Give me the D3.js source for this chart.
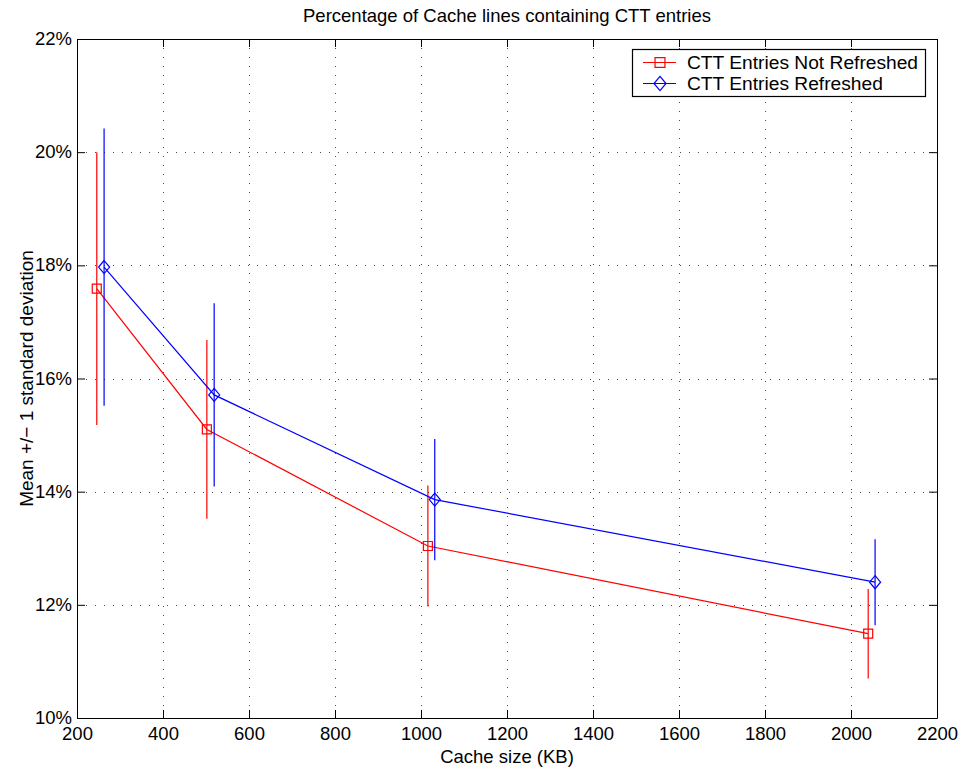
<!DOCTYPE html>
<html>
<head>
<meta charset="utf-8">
<script src="https://cdn.jsdelivr.net/npm/d3@7"></script>
<style>
  body { margin: 0; background: #fff; }
  text { font-family: "Liberation Sans", Arial, Helvetica, sans-serif; fill: #000; }
</style>
</head>
<body>
<svg></svg>
<script>
const size = {w: 961, h: 769};
const margin = {t: 39, r: 24, b: 51, l: 77};
const plot = {w: size.w - margin.l - margin.r, h: size.h - margin.t - margin.b};

// data
const xTicks = [200, 400, 600, 800, 1000, 1200, 1400, 1600, 1800, 2000, 2200];
const yTicks = [10, 12, 14, 16, 18, 20, 22];

const notRefreshedX = [246, 502, 1016, 2040];
const notRefreshedMean = [17.59, 15.10, 13.04, 11.49];
const notRefreshedSd = [2.41, 1.58, 1.07, 0.79];

const refreshedX = [263, 519, 1032, 2056];
const refreshedMean = [17.97, 15.71, 13.86, 12.40];
const refreshedSd = [2.45, 1.62, 1.07, 0.76];

const seriesNames = ['CTT Entries Not Refreshed', 'CTT Entries Refreshed'];
const seriesColors = ['#ff0000', '#0000ff'];
const seriesMarkers = ['square', 'diamond'];

const series = [
  {name: seriesNames[0], color: seriesColors[0], marker: seriesMarkers[0],
   pts: notRefreshedX.map((x, i) => ({x, m: notRefreshedMean[i], s: notRefreshedSd[i]}))},
  {name: seriesNames[1], color: seriesColors[1], marker: seriesMarkers[1],
   pts: refreshedX.map((x, i) => ({x, m: refreshedMean[i], s: refreshedSd[i]}))}
];

const fontSize = '18.5px';

const svg = d3.select('svg').attr('width', size.w).attr('height', size.h);
const g = svg.append('g').attr('transform', `translate(${margin.l}, ${margin.t})`);

const scaleX = d3.scaleLinear().domain([200, 2200]).range([0, plot.w]);
const scaleY = d3.scaleLinear().domain([10, 22]).range([plot.h, 0]);

// dotted grid
g.append('g').selectAll('line')
  .data(xTicks.slice(1, -1))
  .join('line')
  .attr('x1', d => Math.round(scaleX(d)) + 0.5).attr('x2', d => Math.round(scaleX(d)) + 0.5)
  .attr('y1', 0).attr('y2', plot.h)
  .attr('stroke', '#000').attr('stroke-width', 1).attr('stroke-dasharray', '1 8')
  .attr('opacity', 0.7);

g.append('g').selectAll('line')
  .data(yTicks.slice(1, -1))
  .join('line')
  .attr('y1', d => Math.round(scaleY(d)) + 0.5).attr('y2', d => Math.round(scaleY(d)) + 0.5)
  .attr('x1', 0).attr('x2', plot.w)
  .attr('stroke', '#000').attr('stroke-width', 1).attr('stroke-dasharray', '1 8')
  .attr('opacity', 0.7);

// axes (ticks pointing inward, matlab style)
const axisBottom = d3.axisBottom(scaleX).tickValues(xTicks).tickSize(-8).tickSizeOuter(0).tickPadding(9)
  .tickFormat(d3.format('d'));
const axisTop = d3.axisTop(scaleX).tickValues(xTicks).tickSize(-8).tickSizeOuter(0).tickFormat('');
const axisLeft = d3.axisLeft(scaleY).tickValues(yTicks).tickSize(-8).tickSizeOuter(0).tickPadding(5)
  .tickFormat(d => d + '%');
const axisRight = d3.axisRight(scaleY).tickValues(yTicks).tickSize(-8).tickSizeOuter(0).tickFormat('');

const axes = [
  g.append('g').attr('transform', `translate(0, ${plot.h})`).call(axisBottom),
  g.append('g').call(axisTop),
  g.append('g').call(axisLeft),
  g.append('g').attr('transform', `translate(${plot.w}, 0)`).call(axisRight)
];
axes.forEach(a => {
  a.selectAll('path, line').attr('stroke', '#000').attr('stroke-width', 1);
  a.selectAll('text').style('font-size', fontSize).attr('fill', '#000');
});
axes[2].selectAll('text').attr('dy', '0.3em');

// series lines, error bars and markers
const line = d3.line().x(d => scaleX(d.x)).y(d => scaleY(d.m));

series.forEach(s => {
  const sg = g.append('g');
  sg.selectAll('.err')
    .data(s.pts)
    .join('line')
    .classed('err', true)
    .attr('x1', d => scaleX(d.x)).attr('x2', d => scaleX(d.x))
    .attr('y1', d => scaleY(d.m - d.s)).attr('y2', d => scaleY(d.m + d.s))
    .attr('stroke', s.color).attr('stroke-width', 1.2);

  sg.append('path')
    .datum(s.pts)
    .attr('d', line)
    .attr('fill', 'none')
    .attr('stroke', s.color)
    .attr('stroke-width', 1.2);

  sg.selectAll('.mark')
    .data(s.pts)
    .join('path')
    .classed('mark', true)
    .attr('transform', d => `translate(${scaleX(d.x)}, ${scaleY(d.m)})`)
    .attr('d', markerPath(s.marker))
    .attr('fill', 'none')
    .attr('stroke', s.color)
    .attr('stroke-width', 1.2);
});

function markerPath(type){
  if (type === 'square') return 'M-4.5,-4.5H4.5V4.5H-4.5Z';
  return 'M0,-6.5L5.5,0L0,6.5L-5.5,0Z';
}

// title and axis labels
svg.append('text')
  .attr('x', margin.l + plot.w / 2).attr('y', 22)
  .attr('text-anchor', 'middle')
  .style('font-size', fontSize)
  .text('Percentage of Cache lines containing CTT entries');

svg.append('text')
  .attr('x', margin.l + plot.w / 2).attr('y', 763)
  .attr('text-anchor', 'middle')
  .style('font-size', fontSize)
  .text('Cache size (KB)');

svg.append('text')
  .attr('transform', `translate(33, ${margin.t + plot.h / 2}) rotate(-90)`)
  .attr('text-anchor', 'middle')
  .style('font-size', '19px')
  .text('Mean +/\u2212 1 standard deviation');

// legend
const legend = svg.append('g').attr('transform', 'translate(632, 49)');
legend.append('rect')
  .attr('x', 0.5).attr('y', 0.5).attr('width', 293).attr('height', 47)
  .attr('fill', '#fff').attr('stroke', '#000').attr('stroke-width', 1.2);

const entries = legend.selectAll('.entry')
  .data(series)
  .join('g')
  .classed('entry', true)
  .attr('transform', (d, i) => `translate(0, ${13.5 + i * 21})`);

entries.append('line')
  .attr('x1', 11).attr('x2', 44).attr('y1', 0).attr('y2', 0)
  .attr('stroke', d => d.color).attr('stroke-width', 1.2);
entries.append('path')
  .attr('transform', 'translate(28, 0) scale(1.1)')
  .attr('d', d => markerPath(d.marker))
  .attr('fill', 'none')
  .attr('stroke', d => d.color)
  .attr('stroke-width', 1.1);
entries.append('text')
  .attr('x', 55).attr('y', 0).attr('dy', '0.36em')
  .style('font-size', '19.2px')
  .text(d => d.name);
</script>
</body>
</html>
